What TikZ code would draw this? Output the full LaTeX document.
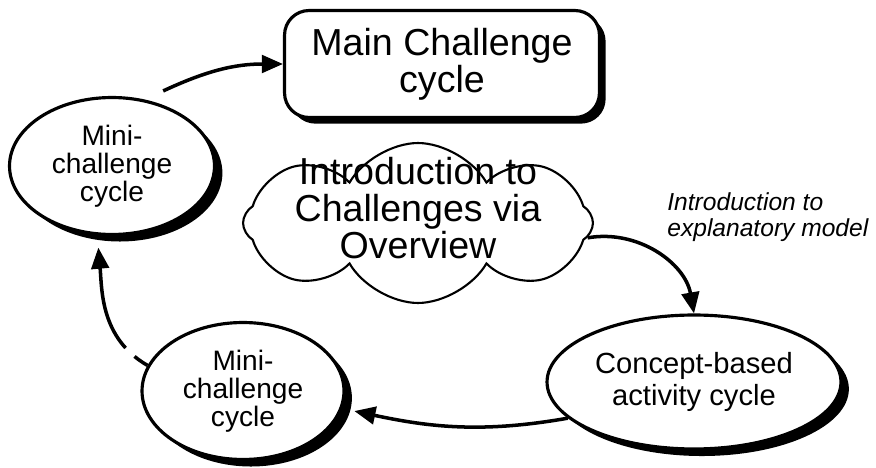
\documentclass[tikz,border=0pt]{standalone}
\usepackage{fontspec}
\setmainfont{Liberation Sans}
\usetikzlibrary{shapes.geometric,shapes.symbols,shadows,arrows.meta}

\begin{document}
\begin{tikzpicture}[x=0.02cm, y=0.02cm,
	cyc/.style={draw, ellipse, line width=1.8pt, fill=white, inner sep=0pt, align=center, font=\fontsize{16}{16}\selectfont, drop shadow={shadow xshift=4.5pt, shadow yshift=-4pt, fill=black, opacity=1}},
	link/.style={line width=2pt, -{Triangle[length=12pt, width=10pt]}}]
	\useasboundingbox (0,0) rectangle (876,467);
	\node[draw, rectangle, rounded corners=14pt, line width=1.8pt, fill=white, minimum width=6.3cm, minimum height=2.14cm, align=center, font=\fontsize{21.4}{19}\selectfont, drop shadow={shadow xshift=3.5pt, shadow yshift=-3.5pt, fill=black, opacity=1}] (M) at (442, 403) {Main Challenge\\cycle};
	\node[cyc, minimum width=4.1cm, minimum height=2.74cm] (T) at (112, 301) {Mini-\\challenge\\cycle};
	\node[cyc, minimum width=4.04cm, minimum height=2.74cm] (L) at (243, 76) {Mini-\\challenge\\cycle};
	\node[cyc, minimum width=5.88cm, minimum height=2.68cm, font=\fontsize{16.6}{18.7}\selectfont] (C) at (694, 85) {Concept-based\\activity cycle};
	\node[draw, cloud, cloud puffs=8, cloud puff arc=120, cloud ignores aspect, line width=1.2pt, minimum width=7cm, minimum height=3.2cm, inner sep=0pt] (intro) at (418, 244) {};
	\node[align=center, font=\fontsize{21.4}{21}\selectfont] (introtext) at (418, 259) {Introduction to\\Challenges via\\Overview};
	\node[anchor=west, align=left, inner sep=0pt, font=\itshape\fontsize{14}{15}\selectfont] (model) at (667, 250) {Introduction to\\explanatory model};
	\draw[link] ([yshift=8pt]T.50) to[out=25, in=180] (M.west);
	\draw[link] (intro.-5) to[out=10, in=100] (C.north);
	\draw[link, shorten >=7pt] (C.196) to[out=190, in=-12] (L.-10);
	\draw[link, dash pattern=on 9pt off 7pt on 300pt, shorten >=7pt] (L.165) to[out=150, in=275] (T.258);
\end{tikzpicture}
\end{document}
